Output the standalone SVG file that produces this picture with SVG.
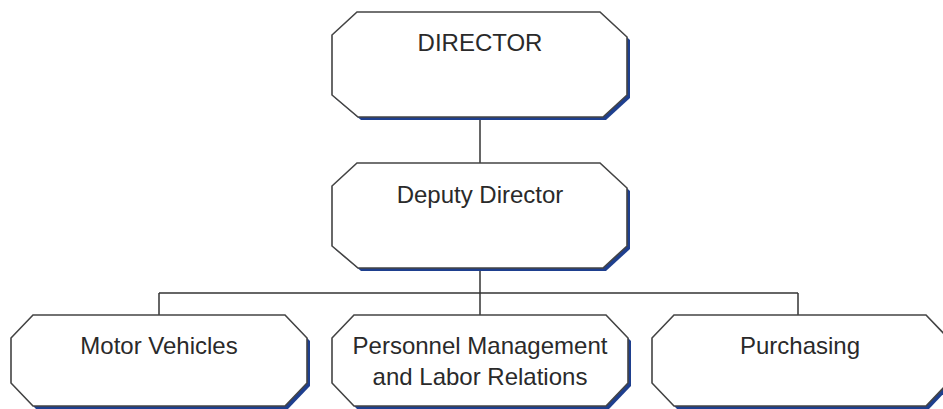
<svg xmlns="http://www.w3.org/2000/svg" width="943" height="409" viewBox="0 0 943 409">
<style>
.sh{fill:#1e3f8e;stroke:none}
.bx{fill:#fff;stroke:#444;stroke-width:1.6}
.t{font-family:"Liberation Sans",Arial,sans-serif;font-size:24px;fill:#2a2a2a;text-anchor:middle}
.c{stroke:#333;stroke-width:1.5;fill:none}
</style>
<defs>
<polygon id="big" points="25,0 268,0 295,25 295,83 271,105 26,105 0,83 0,23"/>
<polygon id="small" points="22,0 274,0 296,23 296,68 274,91 22,91 0,68 0,23"/>
</defs>
<g id="connectors">
<line class="c" x1="480" y1="117" x2="480" y2="164"/>
<line class="c" x1="480" y1="268" x2="480" y2="315"/>
<line class="c" x1="159" y1="293" x2="798" y2="293"/>
<line class="c" x1="159" y1="293" x2="159" y2="315"/>
<line class="c" x1="798" y1="293" x2="798" y2="315"/>
</g>
<g id="director">
<use href="#big" class="sh" x="335" y="15"/>
<use href="#big" class="bx" x="332" y="12"/>
<text class="t" x="480" y="51">DIRECTOR</text>
</g>
<g id="deputy">
<use href="#big" class="sh" x="335" y="166"/>
<use href="#big" class="bx" x="332" y="163"/>
<text class="t" x="480" y="203">Deputy Director</text>
</g>
<g id="motor">
<use href="#small" class="sh" x="14" y="318"/>
<use href="#small" class="bx" x="11" y="315"/>
<text class="t" x="159" y="354">Motor Vehicles</text>
</g>
<g id="personnel">
<use href="#small" class="sh" x="335" y="318"/>
<use href="#small" class="bx" x="332" y="315"/>
<text class="t" x="480" y="354">Personnel Management</text>
<text class="t" x="480" y="385">and Labor Relations</text>
</g>
<g id="purchasing">
<use href="#small" class="sh" x="655" y="318"/>
<use href="#small" class="bx" x="652" y="315"/>
<text class="t" x="800" y="354">Purchasing</text>
</g>
</svg>
